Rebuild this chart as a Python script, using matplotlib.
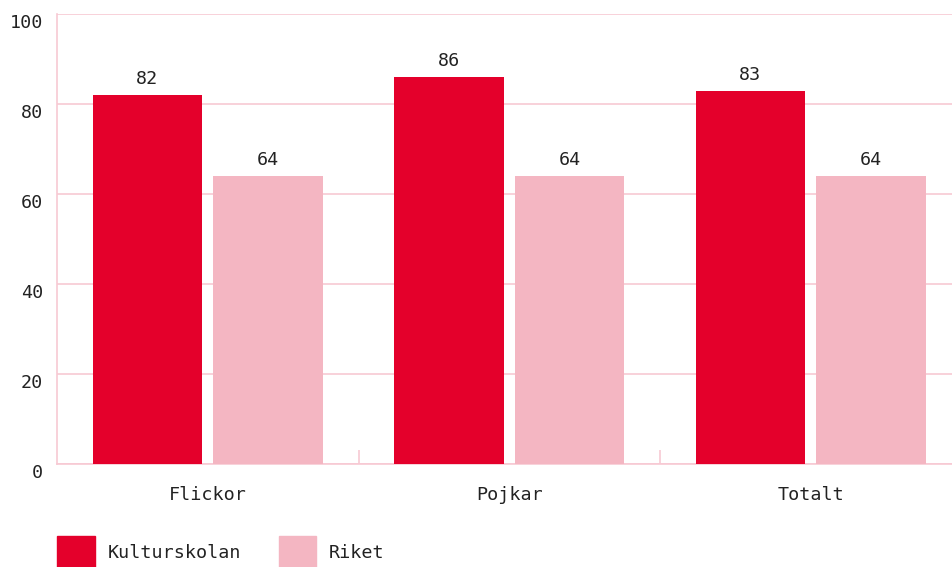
import matplotlib
matplotlib.use("Agg")
import matplotlib.pyplot as plt
import matplotlib.transforms as mtrans
from matplotlib.patches import Patch
import numpy as np

categories = ["Flickor", "Pojkar", "Totalt"]
series_names = ["Kulturskolan", "Riket"]
kulturskolan = [82, 86, 83]
riket = [64, 64, 64]
y_ticks = [0, 20, 40, 60, 80, 100]

RED = "#E4002B"
PINK = "#F4B6C2"
GRID = "#F7C9D3"
TEXT = "#222222"
FS = 13.2

plt.rcParams["font.family"] = ["DejaVu Sans Mono"]
plt.rcParams["font.size"] = FS

fig = plt.figure(figsize=(9.52, 5.67), dpi=100)
# plot area runs past the right edge of the figure, as in the original
ax = fig.add_axes([57 / 952, 103 / 567, 904.5 / 952, 450 / 567])

x = np.arange(len(categories)) + 0.5
w = 0.362
b1 = ax.bar(x - 0.2, kulturskolan, w, color=RED, zorder=3)
b2 = ax.bar(x + 0.2, riket, w, color=PINK, zorder=3)

for bars, vals in [(b1, kulturskolan), (b2, riket)]:
    for bar, v in zip(bars, vals):
        ax.annotate(str(v), (bar.get_x() + bar.get_width() / 2, v),
                    xytext=(0, 5), textcoords="offset points",
                    ha="center", va="bottom", color=TEXT, fontsize=FS)

ax.set_xlim(0, 3)
ax.set_ylim(0, 100)
ax.set_yticks(y_ticks)
ax.yaxis.grid(True, color=GRID, linewidth=1.2, zorder=0)
ax.tick_params(axis="y", length=0, pad=10, colors=TEXT)
shift = mtrans.ScaledTranslation(0, -7 / 100, fig.dpi_scale_trans)
for lab in ax.get_yticklabels():
    lab.set_transform(lab.get_transform() + shift)

ax.set_xticks(x)
ax.set_xticklabels(categories)
ax.tick_params(axis="x", length=0, pad=16, colors=TEXT)
ax.set_xticks([1, 2], minor=True)
ax.tick_params(axis="x", which="minor", direction="in", length=10,
               color=GRID, width=1.2)

for s in ["top", "right"]:
    ax.spines[s].set_visible(False)
for s in ["left", "bottom"]:
    ax.spines[s].set_color(GRID)
    ax.spines[s].set_linewidth(1.2)

handles = [Patch(color=RED), Patch(color=PINK)]
fig.legend(handles, series_names, loc="lower left",
           bbox_to_anchor=(57 / 952, -0.005), ncol=2, frameon=False,
           borderpad=0, borderaxespad=0,
           handlelength=2.05, handleheight=2.48, handletextpad=0.7,
           columnspacing=2.05, labelcolor=TEXT, fontsize=FS)

fig.savefig("out.png", dpi=100)
